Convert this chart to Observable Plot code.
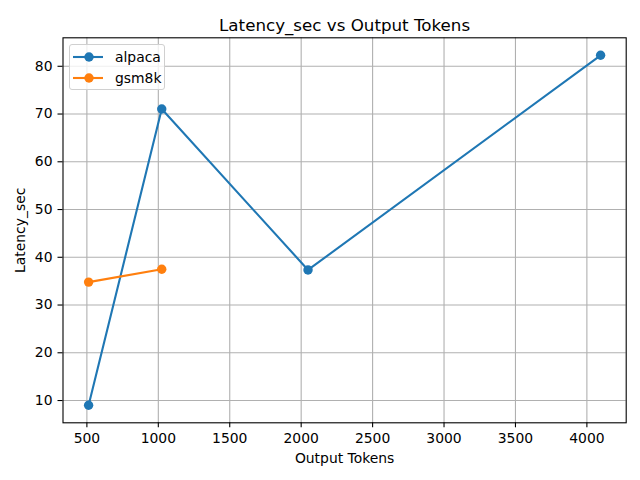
<!DOCTYPE html>
<html>
<head>
<meta charset="utf-8">
<script src="https://cdn.jsdelivr.net/npm/d3@7"></script>
<script src="https://cdn.jsdelivr.net/npm/@observablehq/plot@0.6"></script>
<style>
  html, body { margin: 0; padding: 0; background: #fff; }
  #wrap { position: relative; width: 640px; height: 480px; font-family: "DejaVu Sans", sans-serif; }
  #legend { position: absolute; left: 69px; top: 44px; width: 96px; height: 46px; box-sizing: border-box;
            border: 1px solid #d0d0d0; border-radius: 3px; background: rgba(255,255,255,0.8); }
  #legend .row { position: absolute; left: 0; height: 20px; display: flex; align-items: center; }
  #legend span { font-size: 13.9px; color: #000; }
</style>
</head>
<body>
<div id="wrap"><div id="legend"></div></div>
<script>
const seriesNames = ["alpaca", "gsm8k"];
const colors = ["#1f77b4", "#ff7f0e"];
const alpacaX = [512, 1024, 2048, 4096];
const alpacaY = [9.0, 71.05, 37.35, 82.3];
const gsm8kX = [512, 1024];
const gsm8kY = [34.8, 37.5];
const xTicks = [500, 1000, 1500, 2000, 2500, 3000, 3500, 4000];
const yTicks = [10, 20, 30, 40, 50, 60, 70, 80];
const titleText = "Latency_sec vs Output Tokens";
const xLabel = "Output Tokens";
const yLabel = "Latency_sec";

const data = [
  ...alpacaX.map((x, i) => ({series: seriesNames[0], x, y: alpacaY[i]})),
  ...gsm8kX.map((x, i) => ({series: seriesNames[1], x, y: gsm8kY[i]}))
];

const allX = data.map(d => d.x), allY = data.map(d => d.y);
const xmin = d3.min(allX), xmax = d3.max(allX), ymin = d3.min(allY), ymax = d3.max(allY);
const xpad = (xmax - xmin) * 0.05, ypad = (ymax - ymin) * 0.05;

const font = "DejaVu Sans, sans-serif";
const chart = Plot.plot({
  width: 640,
  height: 480,
  marginLeft: 62.5,
  marginRight: 14.3,
  marginTop: 37.3,
  marginBottom: 57.7,
  style: {fontFamily: font, fontSize: "13.9px", color: "#000", background: "#fff"},
  x: {domain: [xmin - xpad, xmax + xpad]},
  y: {domain: [ymin - ypad, ymax + ypad]},
  color: {domain: seriesNames, range: colors},
  marks: [
    Plot.gridX(xTicks, {stroke: "#b0b0b0", strokeOpacity: 1, strokeWidth: 1.1}),
    Plot.gridY(yTicks, {stroke: "#b0b0b0", strokeOpacity: 1, strokeWidth: 1.1}),
    Plot.line(data, {x: "x", y: "y", z: "series", stroke: "series", strokeWidth: 2.1}),
    Plot.dot(data, {x: "x", y: "y", fill: "series", r: 4.7, stroke: null}),
    Plot.frame({stroke: "#000", strokeWidth: 1.1}),
    Plot.axisX(xTicks, {tickSize: 5, tickPadding: 5, tickFormat: d3.format("d"), label: null, fontSize: 13.9, strokeWidth: 1.1}),
    Plot.axisY(yTicks, {tickSize: 5, tickPadding: 5.5, tickFormat: d3.format("d"), label: null, fontSize: 13.9, strokeWidth: 1.1}),
    Plot.text([titleText], {text: d => d, frameAnchor: "top", textAnchor: "middle", lineAnchor: "bottom", dy: -7.3, fontSize: 16.7, fill: "#000"}),
    Plot.text([xLabel], {text: d => d, frameAnchor: "bottom", textAnchor: "middle", lineAnchor: "bottom", dy: 40.4, fontSize: 13.9, fill: "#000"}),
    Plot.text([yLabel], {text: d => d, frameAnchor: "left", textAnchor: "middle", lineAnchor: "bottom", dx: -38.5, rotate: -90, fontSize: 13.9, fill: "#000"})
  ]
});
const wrap = document.getElementById("wrap");
wrap.insertBefore(chart, wrap.firstChild);

const legend = document.getElementById("legend");
seriesNames.forEach((name, i) => {
  const row = document.createElement("div");
  row.className = "row";
  row.style.top = (i === 0 ? 1.5 : 23) + "px";
  row.innerHTML = `<svg width="34" height="20" style="margin-left:3px"><line x1="0" x2="30" y1="10" y2="10" stroke="${colors[i]}" stroke-width="2.1"/><circle cx="16" cy="10" r="4.7" fill="${colors[i]}"/></svg><span style="margin-left:8px">${name}</span>`;
  legend.appendChild(row);
});
</script>
</body>
</html>
